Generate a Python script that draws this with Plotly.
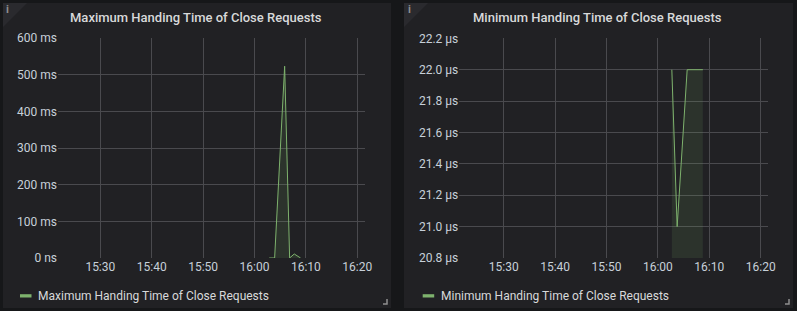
import plotly.graph_objects as go

W, H = 797, 311

# ---- data ----
max_times = ["2021-01-01 16:02:52", "2021-01-01 16:03:55", "2021-01-01 16:05:52",
             "2021-01-01 16:06:50", "2021-01-01 16:07:44", "2021-01-01 16:08:58"]
max_ms = [0, 0, 523, 0, 11, 0]

min_times = ["2021-01-01 16:02:43", "2021-01-01 16:03:45", "2021-01-01 16:05:42",
             "2021-01-01 16:06:45", "2021-01-01 16:07:45", "2021-01-01 16:08:45"]
min_us = [22.0, 21.0, 22.0, 22.0, 22.0, 22.0]

left_title = "Maximum Handing Time of Close Requests"
right_title = "Minimum Handing Time of Close Requests"
left_ytick_vals = [0, 100, 200, 300, 400, 500, 600]
left_ytick_text = ["0 ns", "100 ms", "200 ms", "300 ms", "400 ms", "500 ms", "600 ms"]
right_ytick_vals = [20.8, 21.0, 21.2, 21.4, 21.6, 21.8, 22.0, 22.2]
right_ytick_text = ["20.8 µs", "21.0 µs", "21.2 µs", "21.4 µs", "21.6 µs", "21.8 µs", "22.0 µs", "22.2 µs"]

LINE = "#7EB26D"
FILL = "rgba(126,178,109,0.12)"
PAGE_BG = "#161719"
PANEL_BG = "#212124"
TEXT = "#d8d9da"
TICK = "#c7d0d9"
GRID = "#4a4a4e"
FONT = "Roboto"


def px(x):
    return x / W


def py(y):
    return 1 - y / H


fig = go.Figure()
fig.add_trace(go.Scatter(x=max_times, y=max_ms, mode="lines", line=dict(color=LINE, width=1),
                         fill="tozeroy", fillcolor=FILL, xaxis="x", yaxis="y",
                         name=left_title, showlegend=False))
fig.add_trace(go.Scatter(x=min_times, y=min_us, mode="lines", line=dict(color=LINE, width=1),
                         fill="tozeroy", fillcolor=FILL, xaxis="x2", yaxis="y2",
                         name=right_title, showlegend=False))

common_x = dict(type="date", tickformat="%H:%M", dtick=600000, showgrid=True, gridcolor=GRID,
                gridwidth=1, zeroline=False, showline=False, ticks="", automargin=False,
                tickfont=dict(family=FONT, size=12, color=TICK))
common_y = dict(showgrid=True, gridcolor=GRID, gridwidth=1, zeroline=False, showline=False,
                ticks="", automargin=False, tickfont=dict(family=FONT, size=12, color=TICK))

fig.update_layout(
    width=W, height=H,
    margin=dict(l=0, r=0, t=0, b=0, pad=0, autoexpand=False),
    paper_bgcolor=PAGE_BG,
    plot_bgcolor="rgba(0,0,0,0)",
    showlegend=False,
    xaxis=dict(domain=[px(58), px(365)], anchor="y",
               range=["2021-01-01 15:21:46", "2021-01-01 16:21:30"], **common_x),
    yaxis=dict(domain=[py(258), py(38)], anchor="x", range=[0, 600],
               tickvals=left_ytick_vals, ticktext=left_ytick_text, **common_y),
    xaxis2=dict(domain=[px(459.3), px(767.7)], anchor="y2",
                range=["2021-01-01 15:21:22", "2021-01-01 16:21:22"], **common_x),
    yaxis2=dict(domain=[py(258), py(38.3)], anchor="x2", range=[20.8, 22.2],
                tickvals=right_ytick_vals, ticktext=right_ytick_text, **common_y),
)

shapes = []
annotations = []
for (x0, x1, title, legend_x) in [(3, 391, left_title, 20), (404, 793, right_title, 422.7)]:
    shapes.append(dict(type="rect", xref="paper", yref="paper", x0=px(x0), x1=px(x1),
                       y0=py(308), y1=py(3), fillcolor=PANEL_BG, line=dict(width=0), layer="below"))
    # info corner
    shapes.append(dict(type="path", xref="paper", yref="paper",
                       path=f"M {px(x0)},{py(3)} L {px(x0 + 24)},{py(3)} L {px(x0)},{py(27)} Z",
                       fillcolor="#2a2a2e", line=dict(width=0), layer="below"))
    annotations.append(dict(text="i", x=px(x0 + 5), y=py(9), xref="paper", yref="paper",
                            showarrow=False, xanchor="center", yanchor="middle",
                            font=dict(family=FONT, size=11, color="#8e8e8e", weight=700)))
    # resize handle
    shapes.append(dict(type="path", xref="paper", yref="paper",
                       path=f"M {px(x1 - 8)},{py(304)} L {px(x1 - 4)},{py(304)} L {px(x1 - 4)},{py(299)}",
                       line=dict(color="#8e8e8e", width=1.5)))
    annotations.append(dict(text=title, x=px((x0 + x1) / 2 - 1), y=py(17), xref="paper", yref="paper",
                            showarrow=False, xanchor="center", yanchor="middle",
                            font=dict(family=FONT, size=13, color=TEXT, weight=500)))
    # legend
    shapes.append(dict(type="rect", xref="paper", yref="paper", x0=px(legend_x), x1=px(legend_x + 11.5),
                       y0=py(297.5), y1=py(294.2), fillcolor=LINE, line=dict(width=0)))
    annotations.append(dict(text=title, x=px(legend_x + 16), y=py(296), xref="paper", yref="paper",
                            showarrow=False, xanchor="left", yanchor="middle",
                            font=dict(family=FONT, size=12, color=TEXT)))

fig.update_layout(shapes=shapes, annotations=annotations)

fig.write_html("out.html")
